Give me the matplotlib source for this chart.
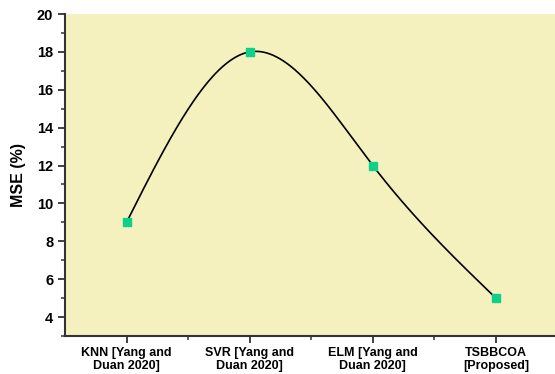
import numpy as np
import matplotlib
matplotlib.use("Agg")
import matplotlib.pyplot as plt
from matplotlib.ticker import MultipleLocator, FixedLocator

categories = ["KNN [Yang and\nDuan 2020]", "SVR [Yang and\nDuan 2020]",
              "ELM [Yang and\nDuan 2020]", "TSBBCOA\n[Proposed]"]
mse = [9, 18, 12, 5]

plt.rcParams['font.family'] = ['Liberation Sans', 'DejaVu Sans']

def natural_spline(x, y, xs):
    x = np.asarray(x, float); y = np.asarray(y, float)
    n = len(x)
    h = np.diff(x)
    A = np.zeros((n, n)); b = np.zeros(n)
    A[0, 0] = 1; A[-1, -1] = 1
    for i in range(1, n - 1):
        A[i, i - 1] = h[i - 1]; A[i, i] = 2 * (h[i - 1] + h[i]); A[i, i + 1] = h[i]
        b[i] = 6 * ((y[i + 1] - y[i]) / h[i] - (y[i] - y[i - 1]) / h[i - 1])
    M = np.linalg.solve(A, b)
    out = np.empty_like(xs)
    for k, xv in enumerate(xs):
        i = min(max(np.searchsorted(x, xv) - 1, 0), n - 2)
        t1 = x[i + 1] - xv; t0 = xv - x[i]; hi = h[i]
        out[k] = (M[i] * t1**3 + M[i + 1] * t0**3) / (6 * hi) \
            + (y[i] / hi - M[i] * hi / 6) * t1 + (y[i + 1] / hi - M[i + 1] * hi / 6) * t0
    return out

fig = plt.figure(figsize=(5.55, 3.74), dpi=100)
ax = fig.add_axes([65/555, 1 - 336/374, (555 - 65)/555, (336 - 14)/374])
ax.set_facecolor('#F5F1BF')

xpos = np.arange(len(categories))
xs = np.linspace(xpos[0], xpos[-1], 400)
ax.plot(xs, natural_spline(xpos, mse, xs), color='black', lw=1.2, zorder=2)
ax.plot(xpos, mse, 's', color='#0FD08A', ms=5.8, mec='#0FD08A', zorder=3, ls='none')

ax.set_xlim(-0.5, 3.48)
ax.set_ylim(3, 20)
ax.yaxis.set_minor_locator(MultipleLocator(1))
ax.set_yticks([4, 6, 8, 10, 12, 14, 16, 18, 20])
ax.set_xticks(xpos)
ax.set_xticklabels(categories, fontsize=9, fontweight='bold', linespacing=1.05)
ax.xaxis.set_minor_locator(FixedLocator([0.5, 1.5, 2.5]))
for lab in ax.get_yticklabels():
    lab.set_fontweight('bold'); lab.set_fontsize(10.5)
ax.set_ylabel('MSE (%)', fontsize=11.5, fontweight='bold', labelpad=8)

for s in ['top', 'right']:
    ax.spines[s].set_visible(False)
for s in ['left', 'bottom']:
    ax.spines[s].set_linewidth(1.5)
    ax.spines[s].set_color('#333333')
ax.tick_params(axis='both', which='major', length=5, width=1.3, color='#333333', direction='out')
ax.tick_params(axis='both', which='minor', length=3, width=1.1, color='#333333', direction='out')
ax.tick_params(axis='x', which='major', pad=3)

fig.savefig('out.png', dpi=100)
